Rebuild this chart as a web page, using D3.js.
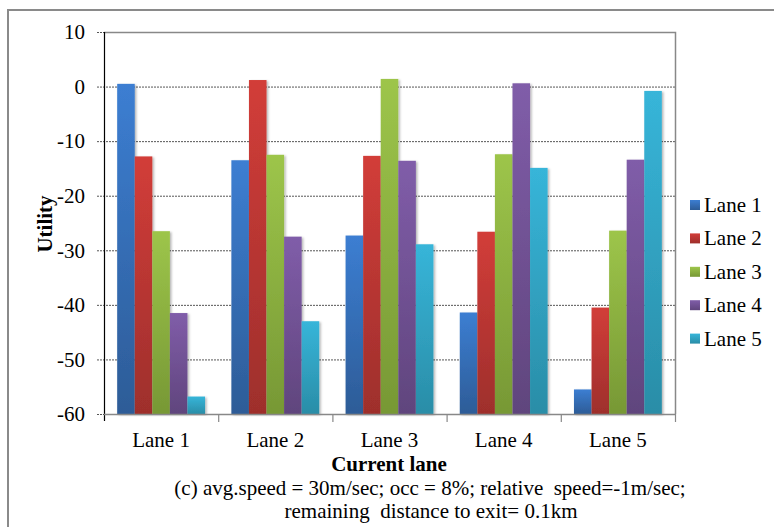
<!DOCTYPE html>
<html>
<head>
<meta charset="utf-8">
<script src="https://cdn.jsdelivr.net/npm/d3@7"></script>
<style>
  html, body { margin: 0; padding: 0; background: #fff; }
  svg text { font-family: "Liberation Serif", "Times New Roman", serif; }
</style>
</head>
<body>
<svg id="chart" width="774" height="527"></svg>
<script>
// Current lane groups on the x axis
const categories = ["Lane 1", "Lane 2", "Lane 3", "Lane 4", "Lane 5"];
// Target lane series (one bar per group)
const seriesNames = ["Lane 1", "Lane 2", "Lane 3", "Lane 4", "Lane 5"];
// Utility of each target lane, per current lane
const lane1Values = [0.5, -13.5, -27.3, -41.4, -55.5];
const lane2Values = [-12.8, 1.2, -12.7, -26.6, -40.5];
const lane3Values = [-26.5, -12.5, 1.4, -12.4, -26.4];
const lane4Values = [-41.5, -27.5, -13.6, 0.6, -13.4];
const lane5Values = [-56.8, -43.0, -28.9, -14.9, -0.8];
const yTicks = [10, 0, -10, -20, -30, -40, -50, -60];

const seriesValues = [lane1Values, lane2Values, lane3Values, lane4Values, lane5Values];
const colorsTop = ["#3c7ed2", "#d23d39", "#9dc54a", "#805da9", "#37b5d9"];
const colorsBottom = ["#2d5c97", "#9e2f2c", "#779835", "#60457d", "#2a8da7"];
const SERIF = "Liberation Serif, Times New Roman, serif";

const svg = d3.select("#chart").attr("font-family", SERIF);
const plot = { left: 104, right: 675, top: 32, bottom: 414 };

const defs = svg.append("defs");
seriesNames.forEach((s, i) => {
  const g = defs.append("linearGradient")
    .attr("id", "grad" + i).attr("x1", 0).attr("y1", 0).attr("x2", 0).attr("y2", 1);
  g.append("stop").attr("offset", "0%").attr("stop-color", colorsTop[i]);
  g.append("stop").attr("offset", "100%").attr("stop-color", colorsBottom[i]);
});
const shadow = defs.append("filter").attr("id", "shadow")
  .attr("x", "-20%").attr("y", "-5%").attr("width", "150%").attr("height", "115%");
shadow.append("feDropShadow").attr("dx", 1.5).attr("dy", 1).attr("stdDeviation", 1)
  .attr("flood-color", "#000").attr("flood-opacity", 0.3);

// Outer chart frame
svg.append("rect").attr("x", 8).attr("y", 10).attr("width", 800).attr("height", 560)
  .attr("fill", "none").attr("stroke", "#8a8a8a").attr("stroke-width", 2);

const y = d3.scaleLinear().domain([-60, 10]).range([plot.bottom, plot.top]);
const x0 = d3.scaleBand().domain(categories).range([plot.left, plot.right]).padding(0);
const x1 = d3.scaleBand().domain(seriesNames).range([0, x0.bandwidth()])
  .paddingInner(0).paddingOuter(0.75);

// Gridlines with outside tick marks
svg.append("g").selectAll("line").data(yTicks.filter(t => t !== 10)).join("line")
  .attr("x1", plot.left - 7).attr("x2", plot.right)
  .attr("y1", d => y(d) + 0.5).attr("y2", d => y(d) + 0.5)
  .attr("stroke", "#555").attr("stroke-width", 1).attr("stroke-dasharray", "2,1");
svg.append("line").attr("x1", plot.left - 7).attr("x2", plot.left)
  .attr("y1", y(10) + 0.5).attr("y2", y(10) + 0.5)
  .attr("stroke", "#555").attr("stroke-dasharray", "2,1");

// Plot area border (top and right)
svg.append("path")
  .attr("d", `M${plot.left},${plot.top + 0.5}H${plot.right + 0.5}V${plot.bottom}`)
  .attr("fill", "none").attr("stroke", "#888").attr("stroke-width", 1.5);

// Bars
const groups = svg.append("g").selectAll("g").data(categories).join("g")
  .attr("transform", d => `translate(${x0(d)},0)`);
groups.selectAll("rect")
  .data((c, ci) => seriesNames.map((s, si) => ({ s, si, v: seriesValues[si][ci] })))
  .join("rect")
  .attr("x", d => x1(d.s))
  .attr("width", x1.bandwidth())
  .attr("y", d => y(d.v))
  .attr("height", d => y(-60) - y(d.v))
  .attr("fill", d => `url(#grad${d.si})`)
  .attr("filter", "url(#shadow)");

// Y axis (hyphen-minus labels)
const yAxis = d3.axisLeft(y).tickValues(yTicks).tickSize(0).tickPadding(19)
  .tickFormat(d => String(d));
const yg = svg.append("g").attr("transform", `translate(${plot.left},0)`).call(yAxis)
  .attr("font-family", SERIF).attr("font-size", 21);
yg.select(".domain").remove();
yg.selectAll("text").attr("fill", "#000");
svg.append("line").attr("x1", plot.left + 0.5).attr("x2", plot.left + 0.5)
  .attr("y1", plot.top).attr("y2", plot.bottom + 7)
  .attr("stroke", "#000").attr("stroke-width", 1.2);

// X axis
const xg = svg.append("g").attr("transform", `translate(0,${plot.bottom})`);
xg.append("line").attr("x1", plot.left).attr("x2", plot.right + 0.5)
  .attr("y1", 0.5).attr("y2", 0.5).attr("stroke", "#888").attr("stroke-width", 1.5);
const boundaries = categories.map(c => x0(c)).concat([plot.right]);
xg.selectAll("line.tick").data(boundaries.slice(1)).join("line").attr("class", "tick")
  .attr("x1", d => d + 0.5).attr("x2", d => d + 0.5).attr("y1", 0).attr("y2", 8)
  .attr("stroke", "#888").attr("stroke-width", 1.2);
xg.selectAll("text").data(categories).join("text")
  .attr("x", d => x0(d) + x0.bandwidth() / 2).attr("y", 33)
  .attr("text-anchor", "middle").attr("font-size", 21).text(d => d);

// Axis titles
svg.append("text").attr("transform", "translate(52,224) rotate(-90)")
  .attr("text-anchor", "middle").attr("font-size", 21).attr("font-weight", "bold")
  .text("Utility");
svg.append("text").attr("x", 389).attr("y", 471).attr("text-anchor", "middle")
  .attr("font-size", 21).attr("font-weight", "bold").text("Current lane");

// Caption
svg.append("text").attr("x", 430).attr("y", 495).attr("text-anchor", "middle")
  .attr("font-size", 21).style("white-space", "pre")
  .text("(c) avg.speed = 30m/sec; occ = 8%; relative  speed=-1m/sec;");
svg.append("text").attr("x", 431).attr("y", 518).attr("text-anchor", "middle")
  .attr("font-size", 21).style("white-space", "pre")
  .text("remaining  distance to exit= 0.1km");

// Legend
const legend = svg.append("g").selectAll("g").data(seriesNames).join("g")
  .attr("transform", (d, i) => `translate(690,${205 + i * 33.4})`);
legend.append("rect").attr("x", 0).attr("y", -5).attr("width", 10).attr("height", 10)
  .attr("fill", (d, i) => `url(#grad${i})`);
legend.append("text").attr("x", 14).attr("y", 7).attr("font-size", 21).text(d => d);
</script>
</body>
</html>
